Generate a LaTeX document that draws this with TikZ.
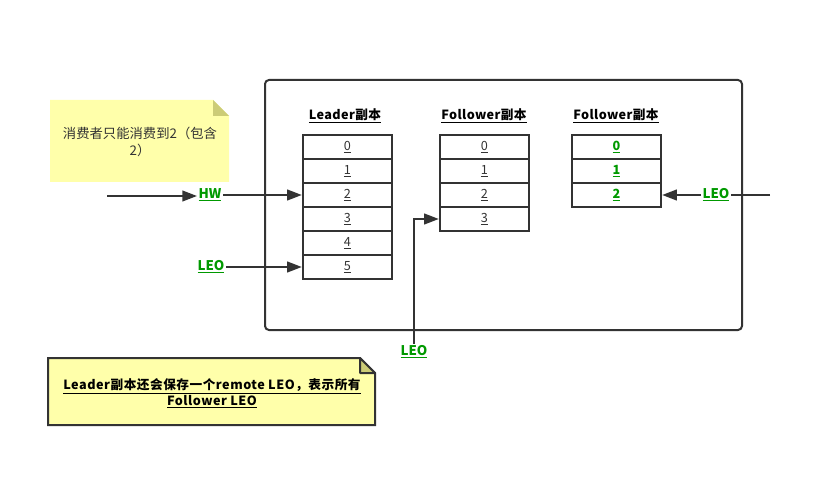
\documentclass[tikz,border=0pt]{standalone}
\usepackage{fontspec}
\setmainfont{Noto Sans CJK SC}
\usetikzlibrary{arrows.meta}
\definecolor{linec}{HTML}{333333}
\definecolor{greenc}{HTML}{009900}
\definecolor{notey}{HTML}{FFFFAA}
\definecolor{foldc}{HTML}{CCCC77}
\tikzset{
  cell/.style={draw=linec, line width=1.5pt, minimum width=67pt, minimum height=18pt, inner sep=0pt, font=\fontsize{9.5}{10}\selectfont, text=linec},
  gcell/.style={cell, text=greenc, font=\fontsize{9.5}{10}\selectfont\bfseries},
  ttl/.style={font=\fontsize{9.5}{11}\selectfont\bfseries\addfontfeatures{LetterSpace=3}, text=black, inner sep=1pt},
  glab/.style={font=\fontsize{10}{11}\selectfont\bfseries, text=greenc, inner sep=1pt},
  conn/.style={draw=linec, line width=1.5pt},
  arr/.style={conn, -{Triangle[length=11pt,width=8pt]}},
}
\begin{document}
\begin{tikzpicture}[x=0.75pt,y=-0.75pt]
\useasboundingbox (0,0) rectangle (831,488);
% container
\draw[draw=linec, line width=1.5pt, rounded corners=3pt] (265,80) rectangle (742,330);
% note 1
\fill[notey] (50,100) -- (213,100) -- (229,116) -- (229,182) -- (50,182) -- cycle;
\fill[foldc] (213,100) -- (229,116) -- (213,116) -- cycle;
\node[align=center, font=\fontsize{10}{13}\selectfont, text=linec] (n1) at (140,142) {消费者只能消费到2（包含\\2）};
% note 2
\draw[draw=linec, line width=1.5pt, fill=notey] (48,358) -- (360,358) -- (375,373) -- (375,425) -- (48,425) -- cycle;
\draw[draw=linec, line width=1.5pt, fill=foldc, line join=round] (360,358) -- (375,373) -- (360,373) -- cycle;
\node[align=center, font=\fontsize{9.5}{12}\selectfont\bfseries\addfontfeatures{LetterSpace=4}, text=black] (n2) at (212,393) {\underline{Leader副本还会保存一个remote LEO，表示所有}\\\underline{Follower LEO}};
% titles
\node[ttl] (t1) at (345,116) {\underline{Leader副本}};
\node[ttl] (t2) at (484,116) {\underline{Follower副本}};
\node[ttl] (t3) at (616,116) {\underline{Follower副本}};
% leader
\foreach \i/\y in {0/147,1/171,2/195,3/219,4/243,5/267}{
  \node[cell] (L\i) at (347.5,\y) {\underline{\i}};
}
\foreach \i/\y in {0/147,1/171,2/195,3/219}{
  \node[cell] (F\i) at (484.5,\y) {\underline{\i}};
}
\foreach \i/\y in {0/147,1/171,2/195}{
  \node[gcell] (G\i) at (616.5,\y) {\underline{\i}};
}
% labels
\node[glab] (hw) at (210,195) {\underline{HW}};
\node[glab] (leo1) at (211,267) {\underline{LEO}};
\node[glab] (leo2) at (414,352) {\underline{LEO}};
\node[glab] (leo3) at (716,195) {\underline{LEO}};
\coordinate (s1) at (107,196);
\coordinate (s3) at (770,195);
% connectors
\draw[arr] (s1) -- (hw.west |- s1);
\draw[arr] (hw.east) -- (L2.west);
\draw[arr] (leo1.east) -- (L5.west);
\draw[arr] (leo2.north) |- (F3.west);
\draw[conn] (s3) -- (leo3.east);
\draw[arr] (leo3.west) -- (G2.east);
\end{tikzpicture}
\end{document}
